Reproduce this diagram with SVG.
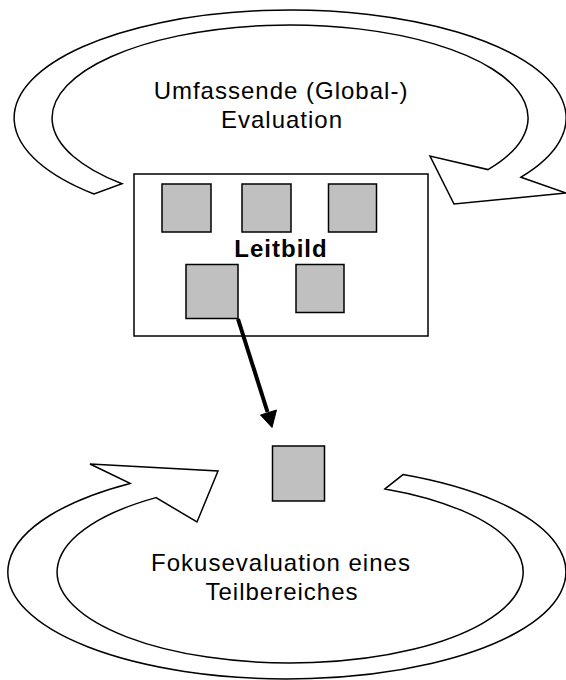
<svg xmlns="http://www.w3.org/2000/svg" width="566" height="680" viewBox="0 0 566 680">
<style>
.ring{fill:#fff;stroke:#000;stroke-width:1.5;stroke-linejoin:miter}
.sq{fill:#c0c0c0;stroke:#000;stroke-width:1.5}
.box{fill:#fff;stroke:#000;stroke-width:1.5}
.lbl{font-family:"Liberation Sans",Arial,sans-serif;font-size:24px;letter-spacing:1px;fill:#000;text-anchor:middle}
.bold{font-weight:bold}
</style>
<rect width="566" height="680" fill="#fff"/>
<g id="global-cycle">
<path class="ring" d="M 94,194 A 276,108 0 1 1 521,177.2 L 566,193 L 454,204 L 430,156 L 488,169.6 A 238,93 0 1 0 122,183.8 Z"/>
<text class="lbl" x="281" y="98.5">Umfassende (Global-)</text>
<text class="lbl" x="282" y="127.5">Evaluation</text>
</g>
<g id="leitbild">
<rect class="box" x="134" y="174" width="294" height="162"/>
<rect class="sq" x="162" y="184" width="49" height="48"/>
<rect class="sq" x="242" y="184" width="49" height="48"/>
<rect class="sq" x="328.5" y="184" width="48" height="48"/>
<rect class="sq" x="186" y="264.5" width="52" height="54"/>
<rect class="sq" x="296" y="264.5" width="48" height="48"/>
<text class="lbl bold" x="281" y="257">Leitbild</text>
</g>
<g id="focus-cycle">
<path class="ring" d="M 403,474.6 A 279,107 0 1 1 130,483.4 L 90,464 L 218,471 L 197,522 L 156,497.6 A 233,91 0 1 0 385,488.9 Z"/>
<text class="lbl" x="281" y="570.5">Fokusevaluation eines</text>
<text class="lbl" x="282" y="600">Teilbereiches</text>
</g>
<g id="focus-item">
<rect class="sq" x="272.5" y="446" width="52" height="55"/>
</g>
<g id="connectors">
<line x1="238" y1="319" x2="267.5" y2="412" stroke="#000" stroke-width="4"/>
<polygon points="272,427.5 260.5,415 276.5,410" fill="#000" stroke="#000" stroke-width="1"/>
</g>
</svg>
